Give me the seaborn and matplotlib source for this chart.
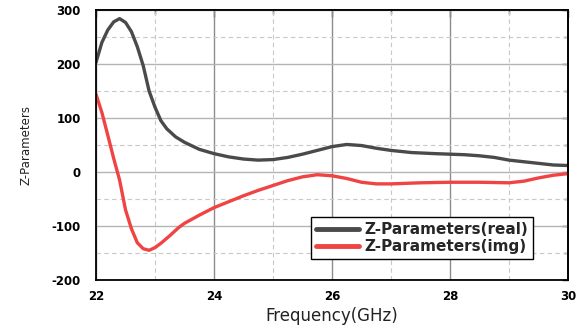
import matplotlib
matplotlib.use("Agg")
import matplotlib.pyplot as plt
from matplotlib.ticker import MultipleLocator
import seaborn as sns
import pandas as pd

# Data
freq_real = [22.0, 22.1, 22.2, 22.3, 22.4, 22.5, 22.6, 22.7, 22.8, 22.9, 23.0, 23.1,
             23.2, 23.35, 23.5, 23.75, 24.0, 24.25, 24.5, 24.75, 25.0, 25.25, 25.5,
             25.75, 26.0, 26.25, 26.5, 26.75, 27.0, 27.35, 27.75, 28.0, 28.25, 28.5,
             28.75, 29.0, 29.25, 29.5, 29.75, 30.0]
z_real = [203, 240, 263, 278, 284, 277, 260, 232, 197, 150, 120, 95,
          80, 65, 55, 42, 34, 28, 24, 22, 23, 27, 33,
          40, 47, 51, 49, 44, 40, 36, 34, 33, 32, 30,
          27, 22, 19, 16, 13, 12]

freq_img = [22.0, 22.1, 22.2, 22.3, 22.4, 22.5, 22.6, 22.7, 22.8, 22.9, 23.0, 23.1,
            23.25, 23.4, 23.5, 23.75, 24.0, 24.25, 24.5, 24.75, 25.0, 25.25, 25.5, 25.75,
            26.0, 26.25, 26.5, 26.75, 27.0, 27.5, 28.0, 28.5, 29.0, 29.25, 29.5,
            29.75, 30.0]
z_img = [144, 110, 68, 25, -15, -70, -105, -131, -142, -145, -140, -132,
         -118, -103, -95, -80, -66, -55, -44, -34, -25, -16, -9, -5,
         -7, -12, -19, -22, -22, -20, -19, -19, -20, -17, -11,
         -6, -3]

label_real = "Z-Parameters(real)"
label_img = "Z-Parameters(img)"
x_ticks = [22, 24, 26, 28, 30]
y_ticks = [-200, -100, 0, 100, 200, 300]

df = pd.concat([
    pd.DataFrame({"freq": freq_real, "z": z_real, "series": label_real}),
    pd.DataFrame({"freq": freq_img, "z": z_img, "series": label_img}),
], ignore_index=True)

sns.set_theme(style="white")
plt.rcParams["font.family"] = ["DejaVu Sans"]
plt.rcParams["axes.unicode_minus"] = False

fig = plt.figure(figsize=(5.81, 3.28), dpi=100)
ax = fig.add_axes([96 / 581, 1 - 280 / 328, 472 / 581, 270 / 328])

palette = {label_real: "#4a4a4a", label_img: "#f04444"}
sns.lineplot(data=df, x="freq", y="z", hue="series", palette=palette,
             linewidth=2.4, ax=ax, legend=False, sort=False)

ax.set_xlim(22, 30)
ax.set_ylim(-200, 300)
ax.set_xticks(x_ticks)
ax.set_yticks(y_ticks)
ax.xaxis.set_minor_locator(MultipleLocator(1))
ax.yaxis.set_minor_locator(MultipleLocator(50))

ax.xaxis.grid(True, which="major", color="#8c8c8c", linewidth=1.0, linestyle="-")
ax.yaxis.grid(True, which="major", color="#b4b4b4", linewidth=1.0, linestyle="-")
ax.grid(True, which="minor", color="#c8c8c8", linewidth=0.8, linestyle=(0, (4, 3)))
ax.set_axisbelow(True)

for s in ax.spines.values():
    s.set_visible(True)
    s.set_color("black")
    s.set_linewidth(1.3)

ax.tick_params(axis="both", which="major", direction="out", length=5, width=1,
               color="black", labelsize=8.5, pad=2)
ax.tick_params(axis="y", which="major", length=6, pad=5)
ax.tick_params(axis="both", which="minor", direction="out", length=3, width=1, color="black")
for lab in ax.get_xticklabels() + ax.get_yticklabels():
    lab.set_fontweight("bold")
    lab.set_color("black")

secx = ax.secondary_xaxis("top")
secx.set_xticks(x_ticks)
secx.xaxis.set_minor_locator(MultipleLocator(1))
secx.tick_params(which="major", direction="in", length=5, width=1, labeltop=False)
secx.tick_params(which="minor", direction="in", length=3, width=1)
secx.spines["top"].set_linewidth(1.3)
secy = ax.secondary_yaxis("right")
secy.set_yticks(y_ticks)
secy.yaxis.set_minor_locator(MultipleLocator(50))
secy.tick_params(which="major", direction="in", length=4, width=1, labelright=False)
secy.tick_params(which="minor", direction="in", length=3, width=1)
secy.spines["right"].set_linewidth(1.3)

ax.set_xlabel("Frequency(GHz)", fontsize=12, color="#222222", labelpad=3)
ax.set_ylabel("Z-Parameters", fontsize=8.5, color="#222222", labelpad=14)

handles = [plt.Line2D([], [], color=palette[label_real], linewidth=3.5),
           plt.Line2D([], [], color=palette[label_img], linewidth=3.5)]
leg = ax.legend(handles, [label_real, label_img], loc="lower right",
                bbox_to_anchor=(0.926, 0.078), prop={"weight": "bold", "size": 11},
                frameon=True, fancybox=False, framealpha=1, edgecolor="black",
                handlelength=2.8, handletextpad=0.4, labelspacing=0.15,
                borderpad=0.3, borderaxespad=0)
leg.get_frame().set_linewidth(1.0)

fig.savefig("out.png", dpi=100)
